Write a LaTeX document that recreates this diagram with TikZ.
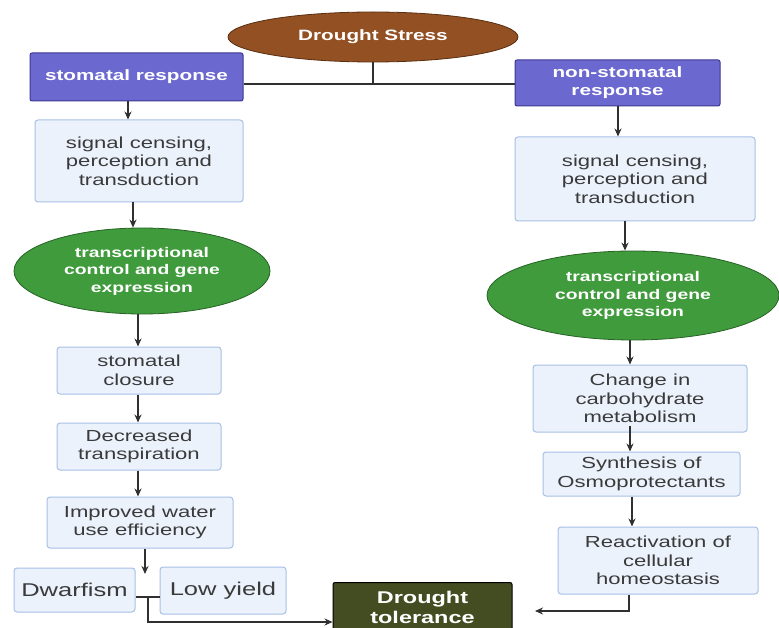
\documentclass[tikz,border=0pt]{standalone}
\usepackage{fontspec}
\setmainfont[FakeStretch=1.38]{Liberation Sans}
\usetikzlibrary{shapes.geometric,arrows.meta}
\definecolor{purp}{HTML}{6B68D0}
\definecolor{purpd}{HTML}{3C3990}
\definecolor{lbfill}{HTML}{EBF2FC}
\definecolor{lbdraw}{HTML}{A8C0E6}
\definecolor{grn}{HTML}{3F9B3B}
\definecolor{grnd}{HTML}{276325}
\definecolor{brn}{HTML}{935023}
\definecolor{brnd}{HTML}{5A2E10}
\definecolor{olv}{HTML}{434D21}
\definecolor{txt}{HTML}{3A3A3A}
\definecolor{ln}{HTML}{303030}
\tikzset{
  pbox/.style={draw=purpd, fill=purp, rounded corners=2pt, line width=1pt, text=white, align=center, inner sep=0pt, font=\bfseries\fontsize{15}{18}\selectfont},
  lbox/.style={draw=lbdraw, fill=lbfill, rounded corners=3pt, line width=1pt, text=txt, align=center, inner sep=0pt, font=\fontsize{16}{18.5}\selectfont},
  gell/.style={ellipse, draw=grnd, fill=grn, line width=0.8pt, text=white, align=center, inner sep=0pt, font=\bfseries\fontsize{14}{17.5}\selectfont},
  arr/.style={-{Stealth[length=8pt,width=7pt]}, line width=1.4pt, draw=ln},
  conn/.style={line width=1.4pt, draw=ln},
}
\begin{document}
\begin{tikzpicture}[x=1pt,y=-1pt]
\useasboundingbox (0,0) rectangle (779,628);
\fill[white] (0,0) rectangle (779,628);
% top
\node[ellipse, draw=brnd, fill=brn, line width=0.8pt, minimum width=290pt, minimum height=50pt, inner sep=0pt, text=white, font=\bfseries\fontsize{15}{18}\selectfont] (ds) at (373,37) {Drought Stress};
\node[pbox, minimum width=213pt, minimum height=48pt] (stom) at (136.5,77) {stomatal response};
\node[pbox, minimum width=205pt, minimum height=46pt] (nstom) at (617.5,83) {non-stomatal\\response};
\coordinate (jn) at (373,84);
\draw[conn] (ds.south) -- (jn);
\draw[conn] (stom.east |- jn) -- (nstom.west |- jn);
% left column
\node[lbox, minimum width=208pt, minimum height=82pt] (sig1) at (139,161) {signal censing,\\perception and\\transduction};
\node[gell, minimum width=256pt, minimum height=86pt] (tc1) at (142,271) {transcriptional\\control and gene\\expression};
\node[lbox, minimum width=164pt, minimum height=47pt] (sc) at (139,370.5) {stomatal\\closure};
\node[lbox, minimum width=164pt, minimum height=47pt] (dt) at (139,446.5) {Decreased\\transpiration};
\node[lbox, minimum width=186pt, minimum height=51pt] (iw) at (140,522.5) {Improved water\\use efficiency};
\node[lbox, minimum width=121pt, minimum height=44pt, font=\fontsize{18.5}{21}\selectfont] (dw) at (74.5,590) {Dwarfism};
\node[lbox, minimum width=126pt, minimum height=47pt, font=\fontsize{18.5}{21}\selectfont] (ly) at (223,590.5) {Low yield};
\node[draw=black, fill=olv, rounded corners=2pt, line width=1pt, minimum width=179pt, minimum height=50pt, text=white, align=center, inner sep=0pt, font=\bfseries\fontsize{17}{20}\selectfont, anchor=north] (tol) at (422.5,582) {Drought\\tolerance};
\draw[arr] (stom.south -| 128,0) -- (sig1.north -| 128,0);
\draw[arr] (sig1.south -| 133,0) -- (tc1.north -| 133,0);
\draw[arr] (tc1.south -| 138,0) -- (sc.north -| 138,0);
\draw[arr] (sc.south -| 138,0) -- (dt.north -| 138,0);
\draw[arr] (dt.south -| 138,0) -- (iw.north -| 138,0);
\draw[arr] (iw.south -| 145,0) -- (145,574);
\coordinate (mid) at (148,597);
\draw[conn] (dw.east |- mid) -- (ly.west |- mid);
\draw[arr] (mid) -- (148,622) -- (tol.west |- 0,622);
% right column
\node[lbox, minimum width=240pt, minimum height=84pt] (sig2) at (635,179) {signal censing,\\perception and\\transduction};
\node[gell, minimum width=292pt, minimum height=89pt] (tc2) at (633,295.5) {transcriptional\\control and gene\\expression};
\node[lbox, minimum width=214pt, minimum height=67pt] (cc) at (640,398.5) {Change in\\carbohydrate\\metabolism};
\node[lbox, minimum width=197pt, minimum height=44pt] (so) at (641.5,474) {Synthesis of\\Osmoprotectants};
\node[lbox, minimum width=200pt, minimum height=67pt] (ra) at (658,560.5) {Reactivation of\\cellular\\homeostasis};
\draw[arr] (nstom.south -| 618,0) -- (sig2.north -| 618,0);
\draw[arr] (sig2.south -| 625,0) -- (tc2.north -| 625,0);
\draw[arr] (tc2.south -| 630,0) -- (cc.north -| 630,0);
\draw[arr] (630,426) -- (so.north -| 630,0);
\draw[arr] (so.south -| 632,0) -- (ra.north -| 632,0);
\coordinate (rend) at (535,611);
\draw[arr] (ra.south -| 629,0) -- (629,611) -- (rend);
\end{tikzpicture}
\end{document}
